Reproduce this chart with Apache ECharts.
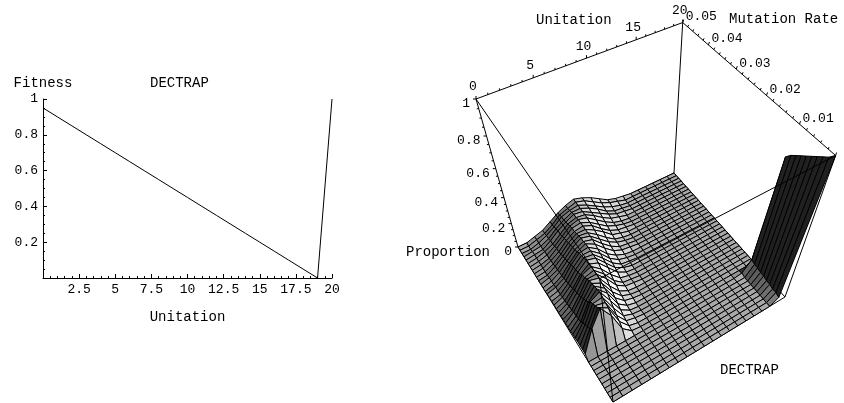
<!DOCTYPE html>
<html>
<head>
<meta charset="utf-8">
<style>html,body{margin:0;background:#fff}#chart{width:844px;height:403px}</style>
<script src="https://cdn.jsdelivr.net/npm/echarts@6/dist/echarts.min.js"></script>
</head>
<body>
<div id="chart"></div>
<script>
// left plot
var unitation = [0,1,2,3,4,5,6,7,8,9,10,11,12,13,14,15,16,17,18,19,20];
var fitness = [0.95,0.9,0.85,0.8,0.75,0.7,0.65,0.6,0.55,0.5,0.45,0.4,0.35,0.3,0.25,0.2,0.15,0.1,0.05,0,1];

// right plot ticks
var unitationTicks = [0,5,10,15,20];
var mutationTicks = [0.01,0.02,0.03,0.04,0.05];
var proportionTicks = [0,0.2,0.4,0.6,0.8,1];

// right plot: one row per mutation rate, percent of population at unitation 0,1,2..
var mutationRates = [0,0.00125,0.0025,0.00375,0.005,0.00625,0.0075,0.00875,0.01,0.01125,0.0125,0.01375,0.015,0.01625,0.0175,0.01875,0.02,0.02125,0.0225,0.02375,0.025,0.02625,0.0275,0.02875,0.03,0.03125,0.0325,0.03375,0.035,0.03625,0.0375,0.03875,0.04,0.04125,0.0425,0.04375,0.045,0.04625,0.0475,0.04875,0.05];
var proportionRows = [
	[0,0,0,0,0,0,0,0,0,0,0,0,0,0,0,0,0,0,0,4,100],
	[0,0,0,0,0,0,0,0,0,0,0,0,0,0,0,0,0,0,0,5,97],
	[0,0,0,0,0,0,0,0,0,0,0,0,0,0,0,0,0,0,0,5,95],
	[0,0,0,0,0,0,0,0,0,0,0,0,0,0,0,0,0,0,0,6,93],
	[0,0,0,0,0,0,0,0,0,0,0,0,0,0,0,0,0,0,0,6,91],
	[0,0,0,0,0,0,0,0,0,0,0,0,0,0,0,0,0,0,0,7,89],
	[0,0,0,0,0,0,0,0,0,0,0,0,0,0,0,0,0,0,0,7,87],
	[0,0,0,0,0,0,0,0,0,0,0,0,0,0,0,0,0,0,0,8,85],
	[0,0,0,0,0,0,0,0,0,0,0,0,0,0,0,0,0,0,0,8,83],
	[0,0,0,0,0,0,0,0,0,0,0,0,0,0,0,0,0,0,1,9,80],
	[4,23,36,25,8,1],
	[4,19,33,28,11,2],
	[4,17,31,29,13,3,1],
	[4,15,29,30,16,4,1],
	[3,13,27,31,19,6,1],
	[3,10,23,30,22,8,2],
	[2,9,21,29,23,10,3,1],
	[2,8,19,28,24,12,4,1],
	[2,8,17,27,25,14,5,1],
	[2,6,15,25,25,17,7,2,1],
	[1,6,14,23,25,18,8,2,1],
	[1,5,13,22,25,19,10,3,1],
	[1,4,11,19,24,21,13,5,1],
	[1,4,10,18,24,22,14,6,2],
	[1,3,9,17,23,22,15,7,2,1],
	[1,3,8,16,22,22,16,8,3,1],
	[1,3,7,15,21,22,17,9,4,1],
	[0,2,6,13,19,22,18,11,5,2,1],
	[0,2,6,12,18,21,19,12,6,2,1],
	[0,2,5,11,17,21,19,13,7,3,1],
	[0,1,5,10,16,20,19,14,8,3,1],
	[0,1,4,9,15,19,19,15,10,4,2],
	[0,1,4,8,14,18,19,16,10,5,2,1],
	[0,1,3,8,13,18,19,16,11,6,3,1],
	[0,1,3,7,12,17,19,17,12,7,3,1],
	[0,1,3,6,11,16,18,17,13,8,4,2],
	[0,1,2,6,11,15,18,17,13,9,5,2,1],
	[0,1,2,5,10,14,17,17,14,10,5,2,1],
	[0,0,2,5,9,14,16,17,14,10,6,3,1],
	[0,0,2,4,8,13,15,17,15,11,7,4,2],
	[0,0,2,4,8,12,15,17,15,12,8,4,2,1]
];

var FONT = '"Liberation Mono", monospace';

function getH(r, c) {
	return (proportionRows[r][c] || 0) / 100;
}

// perspective of the box: u = unitation/20, m = (0.05-rate)/0.05, h = proportion.
// origin is the back left floor corner, the N* vectors are in page pixels
var DEPTH_U = 0.1107, DEPTH_M = -0.1645, DEPTH_H = -0.25;
var ORIGIN = [518, 247], NU = [230.6, -54.85], NM = [-5.84, 88.87], NH = [-161, -172.75];

function depth(un, rate, prop) {
	var u = un / 20, m = (0.05 - rate) / 0.05;
	return 1 + DEPTH_U * u + DEPTH_M * m + DEPTH_H * prop;
}
function project(un, rate, prop) {
	var u = un / 20, m = (0.05 - rate) / 0.05;
	var w = depth(un, rate, prop);
	return [
		(ORIGIN[0] + NU[0] * u + NM[0] * m + NH[0] * prop) / w,
		(ORIGIN[1] + NU[1] * u + NM[1] * m + NH[1] * prop) / w
	];
}

// flat shading of one mesh cell from its slopes
function cellGray(r, c) {
	var sU = 12 * (getH(r, c + 1) + getH(r + 1, c + 1) - getH(r, c) - getH(r + 1, c)) / 2;
	var sM = 34 * (getH(r + 1, c) + getH(r + 1, c + 1) - getH(r, c) - getH(r, c + 1)) / 2;
	var len = Math.sqrt(sU * sU + sM * sM + 1);
	var dot = (-sU * 0.65 + sM * 0.55 + 0.61) / len;
	var half = dot * 0.5 + 0.5;
	var g = Math.round(255 * (0.08 + 0.86 * Math.pow(half, 1.8)));
	return 'rgb(' + g + ',' + g + ',' + g + ')';
}

// mesh cells, far ones first
var cells = [];
for (var r = 0; r < mutationRates.length - 1; r++) {
	for (var c = 0; c < unitation.length - 1; c++) {
		var d = depth(c + 0.5, (mutationRates[r] + mutationRates[r + 1]) / 2, 0);
		cells.push([c, r, d]);
	}
}
cells.sort(function(a, b) { return b[2] - a[2]; });

function renderCell(params, api) {
	var c = api.value(0), r = api.value(1);
	var corners = [[r, c], [r, c + 1], [r + 1, c + 1], [r + 1, c]];
	var pts = corners.map(function(p) {
		return api.coord(project(unitation[p[1]], mutationRates[p[0]], getH(p[0], p[1])));
	});
	return {
		type: 'polygon',
		shape: { points: pts },
		style: { fill: cellGray(r, c), stroke: '#000', lineWidth: 1 }
	};
}

// box edges, [unitation, rate, proportion] at both ends
var backEdges = [
	[[0,0.05,0],[20,0.05,0]], [[20,0.05,0],[20,0,0]], [[20,0,0],[0,0,0]], [[0,0,0],[0,0.05,0]],
	[[20,0.05,0],[20,0.05,1]]
];
var frontEdges = [
	[[0,0.05,1],[20,0.05,1]], [[20,0.05,1],[20,0,1]], [[20,0,1],[0,0,1]], [[0,0,1],[0,0.05,1]],
	[[0,0.05,0],[0,0.05,1]], [[20,0,0],[20,0,1]], [[0,0,0],[0,0,1]]
];
function renderEdge(edges) {
	return function(params, api) {
		var e = edges[params.dataIndex];
		var a = api.coord(project(e[0][0], e[0][1], e[0][2]));
		var b = api.coord(project(e[1][0], e[1][1], e[1][2]));
		return {
			type: 'line',
			shape: { x1: a[0], y1: a[1], x2: b[0], y2: b[1] },
			style: { stroke: '#000', lineWidth: 1 }
		};
	};
}

// tick marks and labels on the three box axes
var boxMarks = [];
for (var i = 0; i <= 20; i++) {
	boxMarks.push({ at: [i, 0.05, 1], dx: 0, dy: i % 5 == 0 ? -3 : -2 });
}
for (var i = 0; i <= 25; i++) {
	boxMarks.push({ at: [20, 0.002 * i, 1], dx: 1, dy: i % 5 == 0 ? -3 : -2 });
}
for (var i = 0; i <= 20; i++) {
	boxMarks.push({ at: [0, 0.05, i * 0.05], dx: i % 4 == 0 ? -3 : -2, dy: 0 });
}
function renderMark(params, api) {
	var k = boxMarks[params.dataIndex];
	var a = api.coord(project(k.at[0], k.at[1], k.at[2]));
	return {
		type: 'line',
		shape: { x1: a[0], y1: a[1], x2: a[0] + k.dx, y2: a[1] + k.dy },
		style: { stroke: '#000', lineWidth: 1 }
	};
}

var boxLabels = [];
unitationTicks.forEach(function(v) {
	boxLabels.push({ text: String(v), at: [v, 0.05, 1], dx: -3, dy: -12, align: 'center' });
});
mutationTicks.forEach(function(v) {
	boxLabels.push({ text: String(v), at: [20, v, 1], dx: 3, dy: -6, align: 'left' });
});
proportionTicks.forEach(function(v) {
	boxLabels.push({ text: String(v), at: [0, 0.05, v], dx: -6, dy: 5, align: 'right' });
});
function renderBoxLabel(params, api) {
	var k = boxLabels[params.dataIndex];
	var a = api.coord(project(k.at[0], k.at[1], k.at[2]));
	return {
		type: 'text',
		x: a[0] + k.dx,
		y: a[1] + k.dy,
		style: { text: k.text, font: '13px ' + FONT, fill: '#000', align: k.align, verticalAlign: 'middle' }
	};
}

function titleText(text, left, top, size) {
	return {
		text: text, left: left, top: top, padding: 0,
		textStyle: { fontFamily: FONT, fontSize: size, fontWeight: 'normal', color: '#000' }
	};
}

function indexList(list) {
	return list.map(function(item, i) { return [i]; });
}
function customSeries(z, data, render) {
	return {
		type: 'custom',
		xAxisIndex: 1,
		yAxisIndex: 1,
		z: z,
		silent: true,
		clip: false,
		animation: false,
		data: data,
		renderItem: render
	};
}

var blackLine = { lineStyle: { color: '#000', width: 1 } };
var hideZero = function(v) { return v == 0 ? '' : String(v); };

var option = {
	animation: false,
	backgroundColor: '#fff',
	title: [
		titleText('DECTRAP', 150, 76, 14),
		titleText('Unitation', 536, 13, 14),
		titleText('Mutation Rate', 729, 12, 14),
		titleText('Proportion', 406, 245, 14),
		titleText('DECTRAP', 720, 363, 14)
	],
	grid: [
		{ left: 43, top: 99, width: 289, height: 179 },
		{ left: 0, top: 0, width: 844, height: 403 }
	],
	xAxis: [{
		type: 'value',
		gridIndex: 0,
		min: 0,
		max: 20,
		interval: 2.5,
		name: 'Unitation',
		nameLocation: 'middle',
		nameGap: 32,
		nameTextStyle: { color: '#000', fontFamily: FONT, fontSize: 14 },
		axisLine: blackLine,
		axisTick: { inside: true, length: 4, lineStyle: { color: '#000' } },
		minorTick: { show: true, splitNumber: 5, length: 2, lineStyle: { color: '#000' } },
		axisLabel: { color: '#000', fontFamily: FONT, fontSize: 13, margin: 5, formatter: hideZero, showMaxLabel: true },
		splitLine: { show: false }
	}, {
		type: 'value',
		gridIndex: 1,
		min: 0,
		max: 844,
		show: false
	}],
	yAxis: [{
		type: 'value',
		gridIndex: 0,
		min: 0,
		max: 1,
		interval: 0.2,
		name: 'Fitness',
		nameLocation: 'end',
		nameGap: 9,
		nameTextStyle: { color: '#000', fontFamily: FONT, fontSize: 14 },
		axisLine: blackLine,
		axisTick: { inside: true, length: 4, lineStyle: { color: '#000' } },
		minorTick: { show: true, splitNumber: 4, length: 2, lineStyle: { color: '#000' } },
		axisLabel: { color: '#000', fontFamily: FONT, fontSize: 13, margin: 5, formatter: hideZero },
		splitLine: { show: false }
	}, {
		type: 'value',
		gridIndex: 1,
		min: 0,
		max: 403,
		inverse: true,
		show: false
	}],
	series: [
		{
			type: 'line',
			xAxisIndex: 0,
			yAxisIndex: 0,
			data: unitation.map(function(u, i) { return [u, fitness[i]]; }),
			showSymbol: false,
			clip: false,
			lineStyle: { color: '#000', width: 1 },
			animation: false
		},
		customSeries(2, indexList(backEdges), renderEdge(backEdges)),
		customSeries(3, cells, renderCell),
		customSeries(4, indexList(frontEdges), renderEdge(frontEdges)),
		customSeries(4, indexList(boxMarks), renderMark),
		customSeries(5, indexList(boxLabels), renderBoxLabel)
	]
};

var chart = echarts.init(document.getElementById('chart'));
chart.setOption(option);
</script>
</body>
</html>
